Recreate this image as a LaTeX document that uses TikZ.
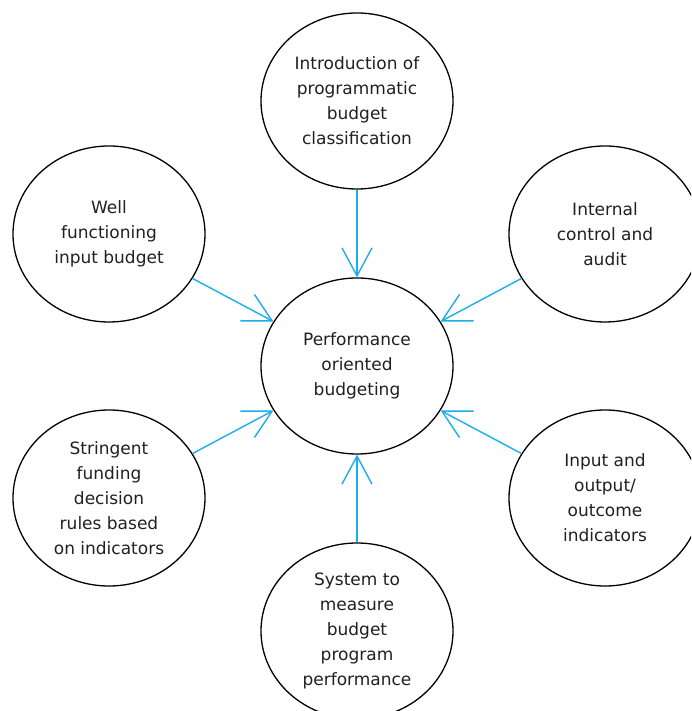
\documentclass[tikz,border=0pt]{standalone}
\usepackage{fontspec}
\setmainfont{DejaVu Sans}
\usetikzlibrary{shapes.geometric}
\usetikzlibrary{arrows.meta}
\usetikzlibrary{positioning}
\definecolor{feedcyan}{RGB}{27,174,232}
\definecolor{inktext}{RGB}{35,31,32}

\begin{document}
\begin{tikzpicture}[x=1pt, y=1pt,
    bubble/.style={ellipse, draw=black, line width=1.3pt, minimum width=192pt, minimum height=176pt,
      inner sep=0pt, align=center, text=inktext, font=\fontsize{17}{25}\selectfont},
    feed/.style={draw=feedcyan, line width=1.4pt, -{Straight Barb[length=28pt, width=30pt]}}]
      % Horizontal distance from the centre to the side bubbles
      \def\hstep{248}
      % Vertical distance from the centre to the top and bottom bubbles
      \def\vstep{265}
      % Vertical offset of the side bubbles
      \def\sidey{132}
      % Frame of the picture
      \useasboundingbox (-357,-345) rectangle (334,366);
      \clip (-357,-345) rectangle (334,366);
      % Central bubble
      \node[bubble] (perf) at (0,0) {Performance\\oriented\\budgeting};
      % Surrounding bubbles
      \node[bubble] (intro) at (0,\vstep) {Introduction of\\programmatic\\budget\\classification};
      \node[bubble] (audit) at (\hstep,\sidey) {Internal\\control and\\audit};
      \node[bubble] (indic) at (\hstep,-\sidey) {Input and\\output/\\outcome\\indicators};
      \node[bubble] (measure) at (0,-\vstep) {System to\\measure\\budget\\program\\performance};
      \node[bubble] (rules) at (-\hstep,-\sidey) {Stringent\\funding\\decision\\rules based\\on indicators};
      \node[bubble] (inbud) at (-\hstep,\sidey) {Well\\functioning\\input budget};
      % Every bubble feeds into the centre
      \foreach \src in {intro,audit,indic,measure,rules,inbud} {
        \draw[feed] (\src) -- (perf);
      }
\end{tikzpicture}
\end{document}
